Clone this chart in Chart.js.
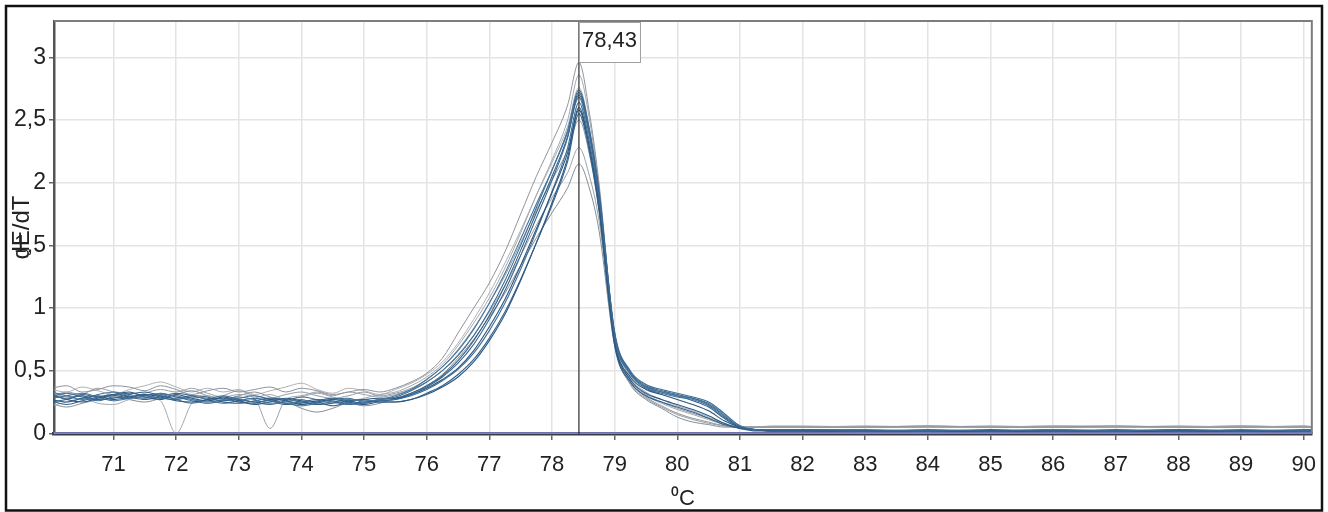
<!DOCTYPE html>
<html><head><meta charset="utf-8">
<script src="https://cdn.jsdelivr.net/npm/chart.js@4.4.1/dist/chart.umd.min.js"></script>
<style>html,body{margin:0;padding:0;background:#fff;}canvas{display:block;}</style>
</head><body>
<canvas id="c" width="1328" height="512"></canvas>
<script>
// ---- data ----
const temps = [70,70.25,70.5,70.75,71,71.25,71.5,71.75,72,72.25,72.5,72.75,73,73.25,73.5,73.75,74,74.25,74.5,74.75,75,75.25,
  75.5,75.75,76,76.25,76.5,76.75,77,77.25,77.5,77.75,78,78.25,78.43,
  78.6,78.75,79,79.25,79.5,79.75,80,80.25,80.5,80.75,81,81.25,81.5,
  82,83,84,85,86,87,88,89,90,90.2];

const D1 = [0.30,0.28,0.31,0.29,0.30,0.32,0.30,0.28,0.27,0.29,0.28,0.26,0.27,0.25,0.26,0.24,0.25,0.27,0.26,0.24,0.25,0.26,
  0.27,0.31,0.37,0.45,0.56,0.71,0.91,1.14,1.42,1.72,2.02,2.36,2.72,
  2.40,1.92,0.80,0.49,0.38,0.34,0.31,0.28,0.23,0.14,0.05,0.03,0.03,
  0.03,0.02,0.02,0.03,0.02,0.02,0.03,0.02,0.02,0.02];
const D2 = [0.27,0.25,0.28,0.30,0.27,0.29,0.31,0.29,0.26,0.25,0.27,0.28,0.25,0.24,0.27,0.26,0.23,0.25,0.27,0.25,0.23,0.25,
  0.25,0.27,0.31,0.37,0.45,0.57,0.74,0.95,1.22,1.52,1.84,2.20,2.60,
  2.28,1.82,0.72,0.43,0.32,0.27,0.23,0.19,0.14,0.08,0.04,0.03,0.02,
  0.02,0.02,0.01,0.02,0.02,0.01,0.02,0.02,0.01,0.01];
const D3 = [0.33,0.30,0.27,0.31,0.33,0.30,0.28,0.31,0.30,0.27,0.25,0.27,0.29,0.27,0.24,0.25,0.27,0.24,0.25,0.27,0.26,0.27,
  0.30,0.35,0.43,0.53,0.66,0.83,1.04,1.28,1.55,1.83,2.10,2.40,2.68,
  2.36,1.90,0.79,0.48,0.37,0.33,0.30,0.28,0.24,0.15,0.06,0.03,0.03,
  0.03,0.03,0.02,0.02,0.03,0.02,0.02,0.03,0.02,0.02];
const D4 = [0.25,0.27,0.30,0.27,0.28,0.31,0.33,0.30,0.28,0.30,0.29,0.25,0.24,0.26,0.28,0.27,0.25,0.23,0.24,0.26,0.27,0.25,
  0.25,0.27,0.32,0.38,0.47,0.59,0.76,0.97,1.23,1.52,1.82,2.17,2.55,
  2.24,1.78,0.70,0.41,0.30,0.25,0.21,0.17,0.12,0.07,0.04,0.02,0.02,
  0.02,0.01,0.02,0.02,0.01,0.02,0.02,0.01,0.02,0.02];
const D5 = [0.29,0.32,0.29,0.26,0.29,0.28,0.30,0.32,0.29,0.26,0.24,0.26,0.28,0.30,0.27,0.24,0.22,0.24,0.27,0.28,0.25,0.27,
  0.29,0.34,0.41,0.50,0.62,0.78,0.98,1.22,1.50,1.80,2.10,2.42,2.74,
  2.42,1.94,0.81,0.50,0.39,0.35,0.32,0.29,0.25,0.16,0.06,0.03,0.03,
  0.03,0.02,0.03,0.02,0.02,0.03,0.02,0.02,0.03,0.03];
const D6 = [0.31,0.27,0.25,0.28,0.31,0.33,0.29,0.27,0.31,0.28,0.26,0.29,0.26,0.23,0.25,0.28,0.26,0.25,0.22,0.25,0.27,0.28,
  0.28,0.31,0.36,0.43,0.52,0.66,0.85,1.07,1.34,1.63,1.92,2.24,2.58,
  2.27,1.80,0.73,0.45,0.35,0.31,0.27,0.23,0.18,0.10,0.05,0.03,0.02,
  0.02,0.02,0.02,0.01,0.02,0.02,0.01,0.02,0.02,0.02];
const D7 = [0.28,0.30,0.32,0.29,0.26,0.28,0.31,0.30,0.27,0.24,0.27,0.30,0.27,0.25,0.23,0.26,0.29,0.27,0.25,0.23,0.24,0.26,
  0.27,0.30,0.35,0.42,0.51,0.64,0.82,1.04,1.31,1.61,1.93,2.28,2.64,
  2.32,1.86,0.77,0.47,0.36,0.32,0.29,0.27,0.22,0.13,0.05,0.03,0.03,
  0.03,0.02,0.02,0.02,0.03,0.02,0.03,0.02,0.02,0.02];
const D8 = [0.26,0.23,0.26,0.29,0.31,0.29,0.27,0.29,0.32,0.30,0.27,0.24,0.26,0.28,0.26,0.23,0.24,0.26,0.28,0.26,0.24,0.27,
  0.28,0.32,0.38,0.46,0.58,0.74,0.94,1.18,1.46,1.76,2.05,2.37,2.70,
  2.38,1.89,0.78,0.48,0.37,0.33,0.30,0.26,0.21,0.12,0.05,0.03,0.02,
  0.02,0.02,0.01,0.02,0.02,0.02,0.02,0.01,0.02,0.02];

const G1 = [0.36,0.38,0.33,0.35,0.38,0.37,0.34,0.38,0.35,0.31,0.34,0.36,0.33,0.35,0.37,0.33,0.36,0.34,0.31,0.33,0.35,0.33,
  0.36,0.41,0.48,0.60,0.80,1.00,1.20,1.45,1.75,2.05,2.32,2.62,2.96,
  2.55,2.00,0.78,0.42,0.29,0.22,0.16,0.12,0.09,0.06,0.05,0.05,0.05,
  0.05,0.05,0.06,0.05,0.05,0.06,0.05,0.05,0.05,0.05];
const G2 = [0.22,0.25,0.28,0.24,0.23,0.27,0.29,0.26,0.00,0.24,0.30,0.27,0.25,0.28,0.31,0.27,0.29,0.32,0.29,0.26,0.28,0.31,
  0.33,0.38,0.45,0.55,0.70,0.88,1.08,1.32,1.60,1.90,2.18,2.50,2.86,
  2.50,1.96,0.76,0.41,0.30,0.24,0.19,0.15,0.11,0.07,0.05,0.05,0.05,
  0.05,0.06,0.05,0.05,0.06,0.05,0.05,0.06,0.05,0.05];
const G3 = [0.33,0.29,0.31,0.36,0.33,0.29,0.32,0.35,0.33,0.36,0.32,0.29,0.31,0.28,0.04,0.27,0.30,0.33,0.30,0.33,0.31,0.29,
  0.31,0.35,0.41,0.50,0.63,0.78,0.97,1.18,1.42,1.66,1.88,2.08,2.28,
  2.05,1.70,0.72,0.40,0.28,0.21,0.15,0.11,0.08,0.06,0.05,0.05,0.05,
  0.05,0.05,0.05,0.06,0.05,0.05,0.06,0.05,0.05,0.05];
const G4 = [0.24,0.21,0.24,0.27,0.30,0.27,0.25,0.28,0.31,0.34,0.30,0.27,0.30,0.33,0.29,0.26,0.20,0.17,0.20,0.24,0.22,0.24,
  0.28,0.32,0.38,0.47,0.60,0.75,0.93,1.12,1.34,1.56,1.76,1.96,2.15,
  1.95,1.62,0.70,0.39,0.27,0.20,0.13,0.09,0.07,0.05,0.05,0.05,0.05,
  0.05,0.05,0.05,0.05,0.05,0.05,0.05,0.05,0.06,0.05];
const G5 = [0.35,0.33,0.37,0.34,0.31,0.35,0.38,0.41,0.37,0.33,0.36,0.33,0.35,0.31,0.34,0.37,0.40,0.35,0.32,0.36,0.34,0.31,
  0.35,0.40,0.47,0.57,0.72,0.91,1.12,1.36,1.62,1.90,2.16,2.45,2.76,
  2.42,1.93,0.79,0.45,0.33,0.27,0.22,0.18,0.13,0.08,0.05,0.05,0.06,
  0.06,0.05,0.05,0.05,0.06,0.06,0.05,0.05,0.05,0.05];
const G6 = [0.29,0.33,0.30,0.27,0.33,0.31,0.28,0.32,0.29,0.27,0.25,0.30,0.34,0.30,0.28,0.31,0.33,0.30,0.28,0.30,0.33,0.30,
  0.32,0.36,0.43,0.53,0.67,0.84,1.04,1.26,1.52,1.78,2.02,2.26,2.50,
  2.22,1.78,0.74,0.43,0.31,0.25,0.20,0.16,0.12,0.07,0.05,0.05,0.05,
  0.05,0.05,0.06,0.05,0.05,0.05,0.05,0.06,0.05,0.05];

const darkCurves = [D1, D2, D3, D4, D5, D6, D7, D8];
const grayCurves = [G1, G2, G3, G4, G5, G6];
const peakTemp = 78.43;
const zeroLevel = 0;
const xMin = 70.05, xMax = 90.13;
const yMin = -0.005, yMax = 3.29;

// ---- styles ----
const FONT = '"Liberation Sans", Arial, sans-serif';
const darkColors = ['#3a6891', '#2c5a84', '#47759c', '#31618b', '#3d6d96', '#2a5680', '#426f98', '#35638c'];
const grayColors = ['#8e949c', '#a3a8ae', '#9aa0a6', '#858d96', '#aeb2b7', '#939ba4'];

const toPts = arr => arr.map((v, i) => ({x: temps[i], y: v}));
const datasets = [];
datasets.push({data: [{x: peakTemp, y: yMin}, {x: peakTemp, y: yMax}], borderColor: '#2a2a2a', borderWidth: 1.2, order: 0});
darkCurves.forEach((c, i) => datasets.push({data: toPts(c), borderColor: darkColors[i], borderWidth: 1.1, order: 2}));
grayCurves.forEach((c, i) => datasets.push({data: toPts(c), borderColor: grayColors[i], borderWidth: 1, order: 3}));
datasets.push({data: [{x: temps[0], y: zeroLevel}, {x: temps[temps.length - 1], y: zeroLevel}], borderColor: '#7d84cc', borderWidth: 2, order: 1});

const decor = {
  id: 'decor',
  beforeDraw(chart) {
    const ctx = chart.ctx;
    ctx.save(); ctx.fillStyle = '#fff'; ctx.fillRect(0, 0, chart.width, chart.height); ctx.restore();
  },
  afterDatasetsDraw(chart) {
    const {ctx, chartArea: a, scales: {x}} = chart;
    ctx.save();
    ctx.strokeStyle = '#7d7d7d'; ctx.lineWidth = 2;
    ctx.beginPath(); ctx.moveTo(a.left, a.top); ctx.lineTo(a.right, a.top); ctx.lineTo(a.right, a.bottom); ctx.stroke();
    const px = x.getPixelForValue(peakTemp);
    const txt = peakTemp.toFixed(2).replace('.', ',');
    ctx.font = '22px ' + FONT;
    const w = ctx.measureText(txt).width + 6;
    ctx.fillStyle = '#fff'; ctx.fillRect(px, a.top + 1, w, 40);
    ctx.strokeStyle = '#a0a0a0'; ctx.lineWidth = 1; ctx.strokeRect(px + 0.5, a.top + 1.5, w, 40);
    ctx.fillStyle = '#222'; ctx.textBaseline = 'middle'; ctx.textAlign = 'left';
    ctx.fillText(txt, px + 3, a.top + 20);
    ctx.restore();
  },
  afterDraw(chart) {
    const ctx = chart.ctx;
    ctx.save(); ctx.strokeStyle = '#111'; ctx.lineWidth = 2.5;
    ctx.strokeRect(6, 6, chart.width - 12, chart.height - 7.5);
    ctx.restore();
  }
};

new Chart(document.getElementById('c'), {
  type: 'line',
  data: {datasets},
  plugins: [decor],
  options: {
    responsive: false, animation: false, devicePixelRatio: 1,
    layout: {padding: {top: 21, right: 14, left: 0, bottom: 0}},
    plugins: {legend: {display: false}, tooltip: {enabled: false}},
    elements: {point: {radius: 0}, line: {cubicInterpolationMode: 'monotone'}},
    scales: {
      x: {
        type: 'linear', min: xMin, max: xMax,
        afterFit(s) { s.height = 78; },
        ticks: {stepSize: 1, includeBounds: false, autoSkip: false, maxRotation: 0, padding: 12,
          font: {family: FONT, size: 22}, color: '#222', callback: v => String(v)},
        grid: {color: '#e4e4e4', lineWidth: 1.5, tickLength: 6, tickColor: '#666'},
        border: {color: '#3a3a48', width: 3.5},
        title: {display: true, text: '⁰C', font: {family: FONT, size: 22}, color: '#222', padding: {top: 0, bottom: 0}}
      },
      y: {
        min: yMin, max: yMax,
        afterFit(s) { s.width = 54; },
        ticks: {stepSize: 0.5, includeBounds: false, padding: 3,
          font: {family: FONT, size: 23}, color: '#222', callback: v => String(v).replace('.', ',')},
        grid: {color: '#e4e4e4', lineWidth: 1.5, tickLength: 5, tickColor: '#666'},
        border: {color: '#555', width: 2.5},
        title: {display: true, text: 'dE/dT', font: {family: FONT, size: 24}, color: '#222', padding: {top: 8, bottom: 0}}
      }
    }
  }
});
</script>
</body></html>
